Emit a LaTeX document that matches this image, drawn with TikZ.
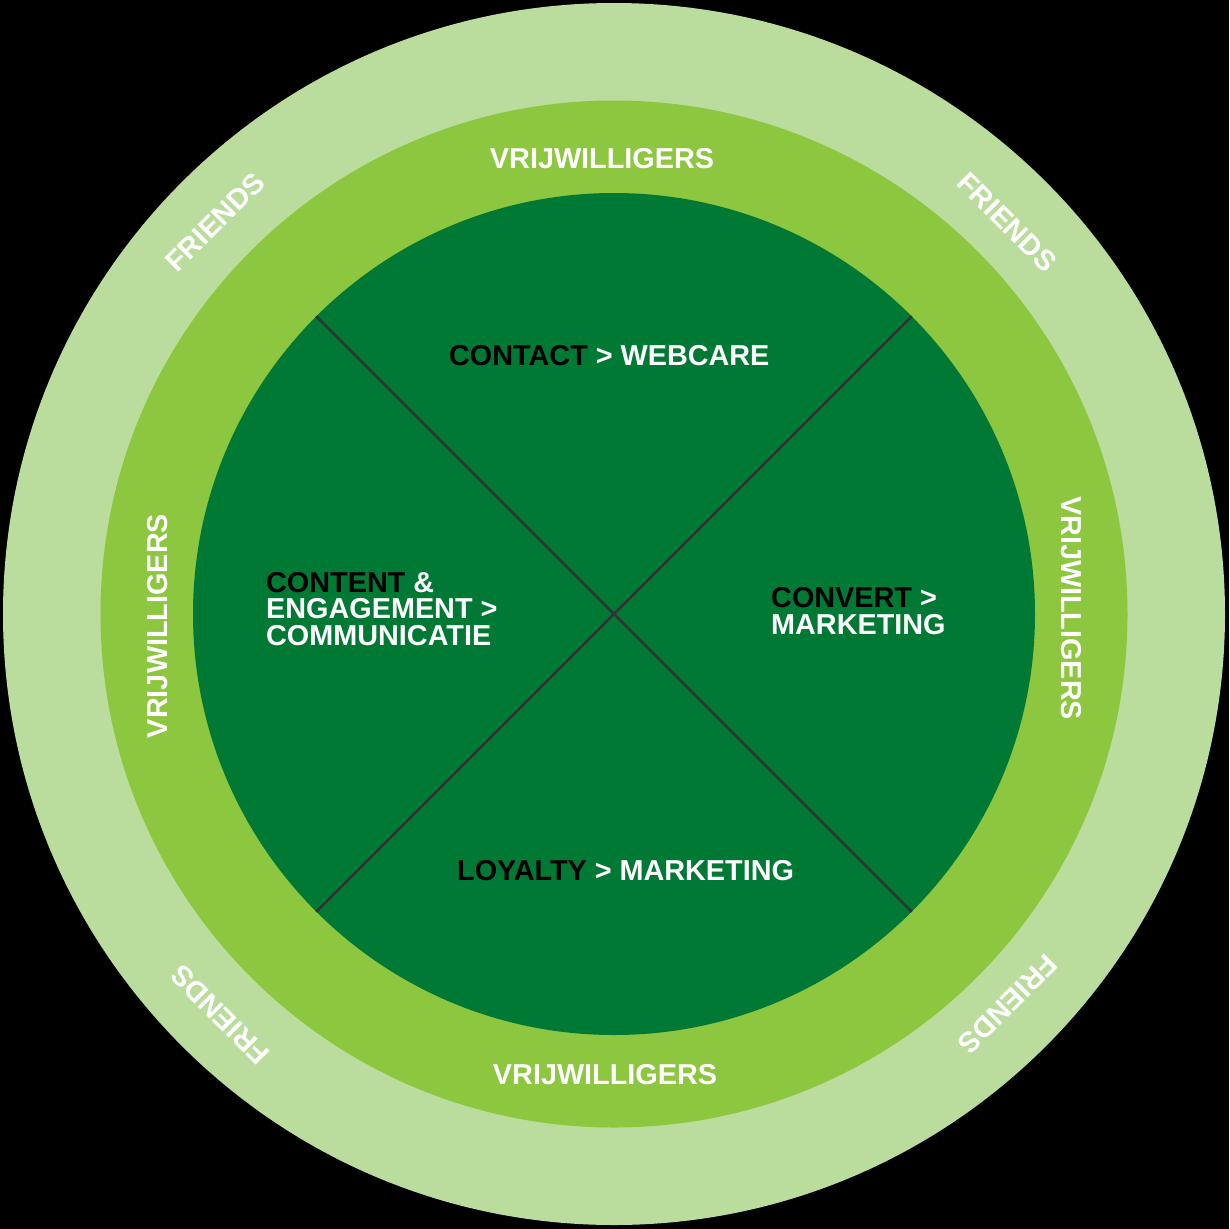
\documentclass[tikz,border=0pt]{standalone}
\usepackage{fontspec}
\setmainfont{Liberation Sans}
\definecolor{bgblack}{HTML}{000000}
\definecolor{lightgreen}{HTML}{BADC9D}
\definecolor{midgreen}{HTML}{8DC63F}
\definecolor{darkgreen}{HTML}{007934}
\definecolor{divider}{HTML}{333333}
\begin{document}
\begin{tikzpicture}[x=1pt,y=-1pt,
  ringtext/.style={font=\fontsize{28.8}{30}\selectfont\bfseries, text=white, inner sep=0pt, text depth=0pt},
  quadtext/.style={font=\fontsize{28.8}{26.5}\selectfont\bfseries, text=white, inner sep=0pt, anchor=base west, align=left},
  divline/.style={draw=divider, line width=2.8pt}]
\fill[bgblack] (0,0) rectangle (1229,1229);
\useasboundingbox (0,0) rectangle (1229,1229);
\coordinate (c) at (614,614);
\node[circle, fill=lightgreen, minimum size=1222pt, inner sep=0pt] (outer) at (c) {};
\node[circle, fill=midgreen, minimum size=1027pt, inner sep=0pt] (middle) at (c) {};
\node[circle, fill=darkgreen, minimum size=842pt, inner sep=0pt] (inner) at (c) {};
\draw[divline] (inner.north west) -- (inner.south east);
\draw[divline] (inner.north east) -- (inner.south west);
% ring labels
\node[ringtext] (v1) at (602,158) {VRIJWILLIGERS};
\node[ringtext] (v2) at (605,1074) {VRIJWILLIGERS};
\node[ringtext, rotate=90] (v3) at (157,626) {VRIJWILLIGERS};
\node[ringtext, rotate=-90] (v4) at (1072,608) {VRIJWILLIGERS};
\node[ringtext, rotate=45] (f1) at (215,222) {FRIENDS};
\node[ringtext, rotate=-45] (f2) at (1007,222) {FRIENDS};
\node[ringtext, rotate=135] (f3) at (220,1015) {FRIENDS};
\node[ringtext, rotate=-135] (f4) at (1008,1004) {FRIENDS};
% quadrant labels
\node[quadtext] (q1) at (449,365) {\textcolor{black}{CONTACT} > WEBCARE};
\node[quadtext] (q2) at (266,645) {\textcolor{black}{CONTENT} \&\\ENGAGEMENT >\\COMMUNICATIE};
\node[quadtext] (q3) at (771,634) {\textcolor{black}{CONVERT} >\\MARKETING};
\node[quadtext] (q4) at (457,880) {\textcolor{black}{LOYALTY} > MARKETING};
\end{tikzpicture}
\end{document}
